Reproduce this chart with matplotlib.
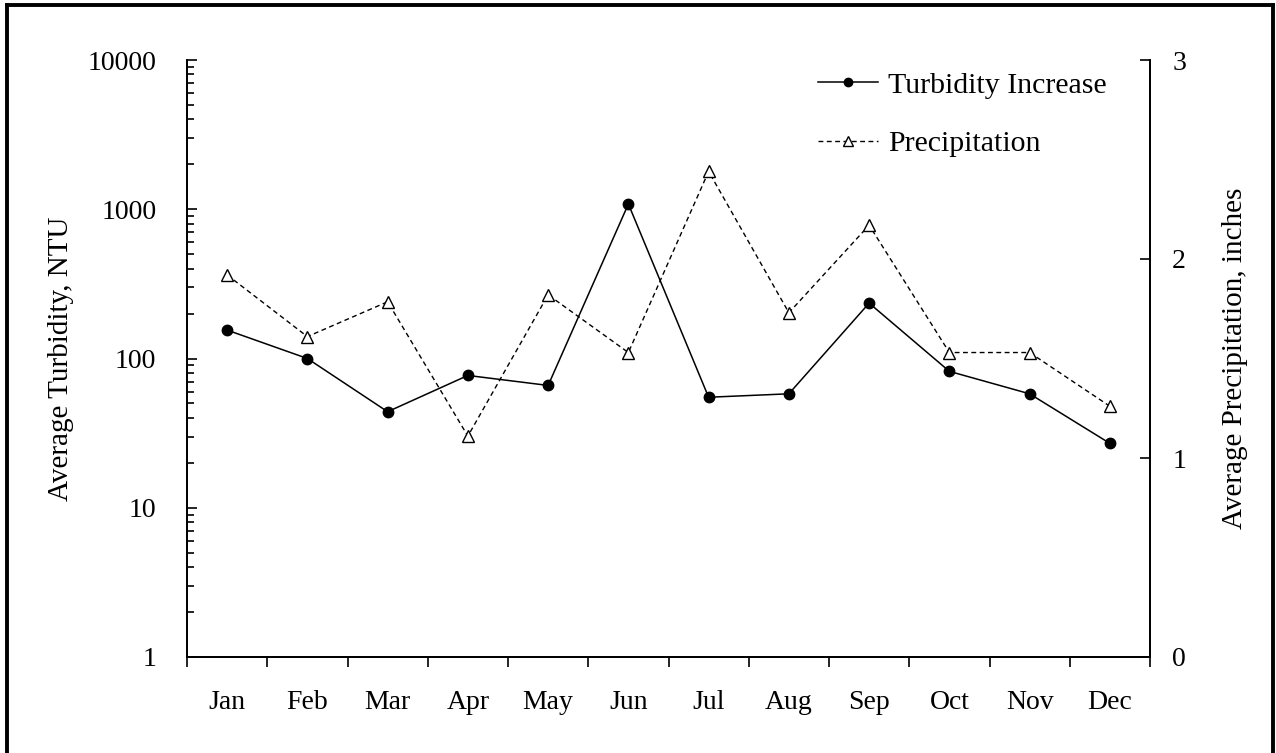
import matplotlib
matplotlib.use("Agg")
import matplotlib.pyplot as plt
from matplotlib.lines import Line2D
from matplotlib.ticker import FixedLocator, NullFormatter, LogLocator
import numpy as np

plt.rcParams['font.family'] = ['Liberation Serif', 'DejaVu Serif']

# data
months = ['Jan', 'Feb', 'Mar', 'Apr', 'May', 'Jun',
          'Jul', 'Aug', 'Sep', 'Oct', 'Nov', 'Dec']
turbidity = [155, 100, 44, 77, 66, 1084, 55, 58, 235, 82, 58, 27]
precip = [1.92, 1.61, 1.785, 1.11, 1.82, 1.53, 2.44, 1.73, 2.17, 1.53, 1.53, 1.26]

W, H = 1276, 753
fig = plt.figure(figsize=(W / 100, H / 100), dpi=100)
ax = fig.add_axes([187 / W, 1 - 657 / H, (1150 - 187) / W, (657 - 60) / H])
ax2 = ax.twinx()

x = np.arange(len(months))

l1, = ax.plot(x, turbidity, color='black', lw=1.1, marker='o', ms=7.5,
              mfc='black', mec='black', label='Turbidity Increase')
l2, = ax2.plot(x, precip, color='black', lw=1.0, ls=(0, (3.5, 2.5)),
               marker='^', ms=9, mfc='white', mec='black', mew=1.0,
               label='Precipitation')

ax.set_yscale('log')
ax.set_ylim(1, 10000)
ax.set_xlim(-0.5, len(months) - 0.5)
ax2.set_ylim(0, 3)
ax2.set_yticks([0, 1, 2, 3])
ax2.set_yticklabels(['0', '1', '2', '3'])
ax.yaxis.set_major_locator(FixedLocator([1, 10, 100, 1000, 10000]))
ax.set_yticklabels(['1', '10', '100', '1000', '10000'])
ax.yaxis.set_minor_locator(LogLocator(base=10, subs=np.arange(2, 10)))
ax.yaxis.set_minor_formatter(NullFormatter())

# category boundaries get ticks, labels sit in the middle
ax.set_xticks(np.arange(-0.5, len(months), 1.0))
ax.set_xticklabels([])
ax.set_xticks(x, minor=True)
ax.set_xticklabels(months, minor=True)

ax.tick_params(axis='x', which='major', direction='out', length=7, width=1.2)
ax.tick_params(axis='x', which='minor', length=0, pad=24, labelsize=20)
ax.tick_params(axis='y', which='major', direction='in', length=7, width=1.2,
               pad=22, labelsize=20)
ax.tick_params(axis='y', which='minor', direction='in', length=5, width=1.2)
ax2.tick_params(axis='y', which='major', direction='in', length=7, width=1.2,
                pad=16, labelsize=20)

for a in (ax, ax2):
    a.spines['top'].set_visible(False)
    for s in a.spines.values():
        s.set_linewidth(1.3)

ax.set_ylabel('Average Turbidity, NTU', fontsize=21, labelpad=10)
ax2.set_ylabel('Average Precipitation, inches', fontsize=21, labelpad=26)

ax2.legend([l1, l2], ['Turbidity Increase', 'Precipitation'],
           loc='upper left', bbox_to_anchor=(818 / W, 1 - 72 / H),
           bbox_transform=fig.transFigure, frameon=False, fontsize=21.5,
           handlelength=2.0, handletextpad=0.35, labelspacing=1.05,
           borderpad=0, borderaxespad=0, markerscale=0.8)

# outer frame of the picture
fl = 7 / W
fr = 1273 / W
ft = 1 - 5 / H
for xs, ys in [([fl, fl], [0, ft]), ([fl, fr], [ft, ft]), ([fr, fr], [ft, 0])]:
    fig.add_artist(Line2D(xs, ys, transform=fig.transFigure, color='black', lw=2.8))

fig.savefig('out.png', dpi=100)
